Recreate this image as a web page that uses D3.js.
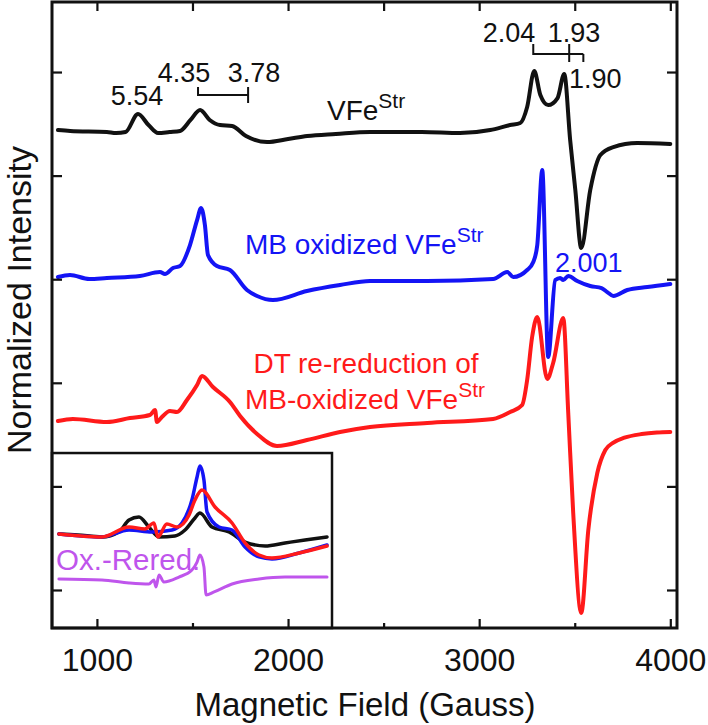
<!DOCTYPE html>
<html>
<head>
<meta charset="utf-8">
<script src="https://cdn.jsdelivr.net/npm/d3@7"></script>
<style>
  html, body { margin: 0; padding: 0; background: #fff; }
  svg { display: block; }
  text { font-family: "Liberation Sans", Arial, Helvetica, sans-serif; }
</style>
</head>
<body>
<svg id="chart" width="708" height="725"></svg>
<script>
// ---------- DATA (field in Gauss, intensity in normalized units) ----------
const blackField = [796,860,1052,1100,1150,1215,1270,1320,1380,1435,1490,1540,1590,1644,1707,1780,1890,2000,2100,2250,2430,2700,2900,3058,3162,3215,3251,3288,3320,3361,3410,3445,3476,3503,3534,3581,3634,3702,3827,4000];
const blackInt   = [4.44,4.431,4.421,4.411,4.421,4.595,4.488,4.411,4.421,4.431,4.537,4.633,4.537,4.488,4.479,4.382,4.324,4.353,4.382,4.402,4.421,4.421,4.411,4.44,4.488,4.508,4.662,5.01,4.778,4.681,4.749,4.981,4.344,3.861,3.301,3.861,4.199,4.276,4.315,4.305];

const blueField = [796,859,960,1052,1225,1330,1356,1398,1435,1487,1524,1545,1565,1581,1628,1696,1785,1838,1921,2099,2272,2429,2728,3073,3147,3178,3251,3283,3304,3330,3361,3398,3424,3440,3466,3513,3581,3640,3670,3702,3775,3880,4000];
const blueInt   = [3.021,3.041,3.002,3.012,3.031,3.069,3.05,3.108,3.127,3.33,3.571,3.687,3.523,3.234,3.127,3.089,2.896,2.838,2.799,2.886,2.944,2.983,2.983,3.002,3.069,3.021,3.089,3.166,3.33,4.054,2.249,2.992,3.012,2.992,3.031,2.983,2.934,2.915,2.876,2.838,2.896,2.925,2.954];

const redField = [796,874,1052,1173,1277,1304,1314,1340,1382,1419,1471,1524,1550,1607,1696,1749,1838,1942,2099,2272,2429,2728,3073,3162,3225,3251,3277,3304,3356,3387,3440,3466,3492,3534,3571,3618,3660,3700,3760,3850,3930,4000];
const redInt   = [1.631,1.651,1.622,1.66,1.689,1.737,1.622,1.67,1.728,1.718,1.834,1.979,2.066,1.959,1.815,1.68,1.506,1.39,1.448,1.525,1.573,1.612,1.651,1.718,1.786,2.027,2.442,2.635,2.037,2.191,2.625,1.708,0.743,-0.222,0.579,1.129,1.351,1.42,1.47,1.505,1.52,1.525];

// inset traces (low-field region)
const insetBlackField = [801,900,1026,1115,1168,1220,1272,1325,1408,1461,1513,1539,1602,1691,1775,1880,1984,2089,2204];
const insetBlackInt   = [0.541,0.531,0.512,0.56,0.676,0.705,0.608,0.512,0.521,0.579,0.695,0.743,0.608,0.56,0.463,0.425,0.454,0.483,0.512];
const insetBlueField = [801,1026,1168,1288,1393,1445,1497,1524,1539,1560,1576,1639,1707,1775,1848,1916,2058,2204];
const insetBlueInt   = [0.541,0.512,0.579,0.56,0.579,0.647,0.869,1.091,1.197,1.062,0.753,0.608,0.579,0.415,0.319,0.299,0.357,0.434];
const insetRedField = [801,1026,1168,1251,1298,1319,1366,1419,1482,1513,1550,1618,1707,1775,1848,1916,2058,2204];
const insetRedInt   = [0.541,0.512,0.608,0.589,0.647,0.512,0.637,0.608,0.724,0.869,0.965,0.801,0.647,0.454,0.338,0.309,0.357,0.425];
const diffField = [801,1026,1168,1272,1298,1309,1325,1350,1429,1497,1524,1539,1560,1571,1613,1707,1848,1984,2204];
const diffInt   = [0.106,0.097,0.068,0.058,0.097,0.029,0.145,0.077,0.125,0.193,0.27,0.338,0.222,-0.048,-0.019,0.058,0.106,0.125,0.125];

const xMajorTicks = [1000,2000,3000,4000];
const xMinorTicks = [1500,2500,3500];
const yTicks = [0,1,2,3,4,5];

// ---------- SETUP ----------
const svg = d3.select("#chart");
const L = 52, R = 677, T = 2, B = 628;
const x = d3.scaleLinear().domain([765, 4035]).range([L, R]);
const y = d3.scaleLinear().domain([-0.367, 5.676]).range([B, T]);

const line = d3.line().x(d => x(d[0])).y(d => y(d[1])).curve(d3.curveMonotoneX);
const zip = (a, b) => a.map((v, i) => [v, b[i]]);

function trace(f, v, color, w) {
  svg.append("path").datum(zip(f, v))
    .attr("fill", "none").attr("stroke", color).attr("stroke-width", w)
    .attr("stroke-linejoin", "round").attr("stroke-linecap", "round")
    .attr("d", line);
}

const BLACK = "#111", BLUE = "#1414f5", RED = "#ff1a1a", PURPLE = "#bf55ec";

// main traces
trace(blackField, blackInt, BLACK, 4);
trace(blueField, blueInt, BLUE, 4);
trace(redField, redInt, RED, 4);

// inset box
const insetRightField = 2230, insetTopVal = 1.322;
svg.append("rect")
  .attr("x", L).attr("y", y(insetTopVal))
  .attr("width", x(insetRightField) - L).attr("height", B - y(insetTopVal))
  .attr("fill", "#fff").attr("stroke", "#111").attr("stroke-width", 2.5);

trace(insetBlackField, insetBlackInt, BLACK, 3.5);
trace(insetBlueField, insetBlueInt, BLUE, 3.5);
trace(insetRedField, insetRedInt, RED, 3.5);
trace(diffField, diffInt, PURPLE, 3);

// ---------- AXES ----------
function styleAxis(g) {
  g.select(".domain").remove();
  g.selectAll(".tick line").attr("stroke", "#111").attr("stroke-width", 2.2);
}
svg.append("g").attr("transform", `translate(0,${B})`)
  .call(d3.axisBottom(x).tickValues(xMajorTicks).tickSize(-9).tickPadding(20).tickFormat(d3.format("d")))
  .call(styleAxis)
  .call(g => g.selectAll("text").attr("font-size", 32).attr("fill", "#111")
      .attr("font-family", "'Liberation Sans', Arial, sans-serif"));
svg.append("g").attr("transform", `translate(0,${B})`)
  .call(d3.axisBottom(x).tickValues(xMinorTicks).tickSize(-5).tickFormat(""))
  .call(styleAxis);
svg.append("g").attr("transform", `translate(0,${T})`)
  .call(d3.axisTop(x).tickValues(xMajorTicks.concat(xMinorTicks)).tickSize(-9).tickFormat(""))
  .call(styleAxis);
svg.append("g").attr("transform", `translate(${L},0)`)
  .call(d3.axisLeft(y).tickValues(yTicks).tickSize(-10).tickFormat(""))
  .call(styleAxis);
svg.append("g").attr("transform", `translate(${R},0)`)
  .call(d3.axisRight(y).tickValues(yTicks).tickSize(-10).tickFormat(""))
  .call(styleAxis);

// frame
svg.append("rect").attr("x", L).attr("y", T).attr("width", R - L).attr("height", B - T)
  .attr("fill", "none").attr("stroke", "#111").attr("stroke-width", 3);

// axis titles
svg.append("text").attr("x", 365).attr("y", 716).attr("text-anchor", "middle")
  .attr("font-size", 33).attr("fill", "#111").text("Magnetic Field (Gauss)");
svg.append("text").attr("transform", "translate(31,300) rotate(-90)").attr("text-anchor", "middle")
  .attr("font-size", 34).attr("fill", "#111").text("Normalized Intensity");

// ---------- ANNOTATIONS ----------
function label(txt, px, py, color, anchor, sup, fs) {
  const t = svg.append("text").attr("x", px).attr("y", py).attr("fill", color)
    .attr("font-size", fs || 28).attr("text-anchor", anchor || "start");
  t.append("tspan").text(txt);
  if (sup) t.append("tspan").attr("font-size", 21).attr("dy", -12).text(sup);
  return t;
}
label("5.54", 137, 105, BLACK, "middle", null, 27);
label("4.35", 184, 82, BLACK, "middle", null, 27);
label("3.78", 254, 82, BLACK, "middle", null, 27);
label("VFe", 327, 120, BLACK, "start", "Str");
label("2.04", 509, 42, BLACK, "middle", null, 27);
label("1.93", 574, 42, BLACK, "middle", null, 27);
label("1.90", 569, 88, BLACK, "start", null, 27);
label("MB oxidized VFe", 245, 254, BLUE, "start", "Str");
label("2.001", 555, 272, BLUE, "start", null, 27);
label("DT re-reduction of", 366, 373, RED, "middle");
label("MB-oxidized VFe", 245, 409, RED, "start", "Str");
label("Ox.-Rered.", 56, 570, PURPLE, "start", null, 29.5);

// g-value brackets
const br = svg.append("g").attr("stroke", "#111").attr("stroke-width", 2).attr("fill", "none");
const g435 = 1529, g378 = 1791;
br.append("path").attr("d",
  `M${x(g435)},87V95H${x(g378)}M${x(g378)},87V103`);
const g204 = 3283, g193 = 3471, g190 = 3545;
br.append("path").attr("d",
  `M${x(g204)},44V54H${x(g190)}M${x(g193)},44V62M${x(g190)},54V62`);
</script>
</body>
</html>
